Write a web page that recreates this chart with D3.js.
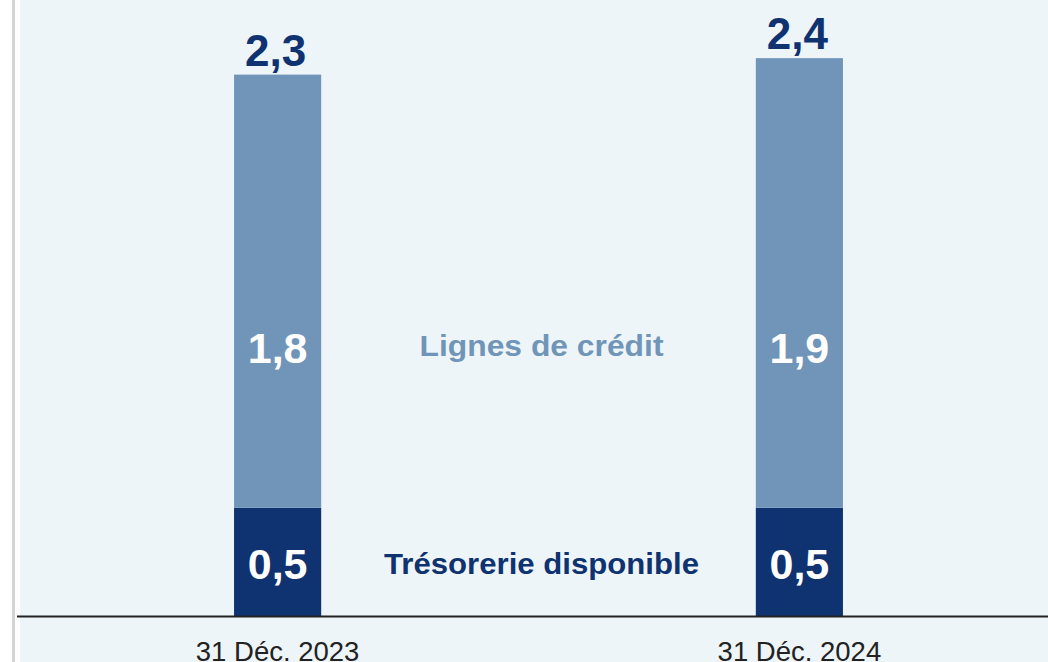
<!DOCTYPE html>
<html>
<head>
<meta charset="utf-8">
<script src="https://cdn.jsdelivr.net/npm/d3@7"></script>
<style>
  html, body { margin: 0; padding: 0; background: #fff; }
  svg { display: block; }
</style>
</head>
<body>
<div id="chart"></div>
<script>
// data
const categories = ['31 Déc. 2023', '31 Déc. 2024'];
const seriesNames = ['Trésorerie disponible', 'Lignes de crédit'];
const tresorerie = [0.46, 0.46];
const lignesCredit = [1.84, 1.91];
const colors = ['#0f3370', '#7095b8'];

const W = 1048, H = 662;
const axisY = 616;

const svg = d3.select('#chart').append('svg')
    .attr('width', W)
    .attr('height', H);

// left frame strip + panel
svg.append('rect').attr('x', 0).attr('y', 0).attr('width', W).attr('height', H).attr('fill', '#ffffff');
svg.append('rect').attr('x', 12).attr('y', 0).attr('width', 3).attr('height', H).attr('fill', '#d4d4d4');
svg.append('rect').attr('x', 20).attr('y', 0).attr('width', W - 20).attr('height', H).attr('fill', '#eef5f8');

const x = d3.scaleBand()
    .domain(categories)
    .range([17, 1060])
    .paddingInner(0.833)
    .paddingOuter(0.416);

const y = d3.scaleLinear()
    .domain([0, 2.6])
    .range([axisY, 4]);

const rows = categories.map((c, i) => ({
    cat: c,
    vals: [tresorerie[i], lignesCredit[i]]
}));

const stack = d3.stack().keys([0, 1]).value((d, k) => d.vals[k]);
const layers = stack(rows);

const fmt = v => d3.format('.1f')(v).replace('.', ',');

const g = svg.append('g');

layers.forEach((layer, li) => {
    g.selectAll('.bar' + li)
        .data(layer)
        .enter().append('rect')
        .attr('x', d => x(d.data.cat))
        .attr('width', x.bandwidth())
        .attr('y', d => y(d[1]))
        .attr('height', d => y(d[0]) - y(d[1]))
        .attr('fill', colors[li]);
});

const numFont = '"Liberation Sans", Arial, sans-serif';

// dark segment labels (centered)
g.selectAll('.lblDark')
    .data(layers[0])
    .enter().append('text')
    .attr('x', d => x(d.data.cat) + x.bandwidth() / 2)
    .attr('y', d => (y(d[0]) + y(d[1])) / 2 + 2)
    .attr('text-anchor', 'middle')
    .attr('dominant-baseline', 'central')
    .attr('font-family', numFont)
    .attr('font-weight', 'bold')
    .attr('font-size', 43)
    .attr('fill', '#ffffff')
    .text(d => fmt(d[1] - d[0]));

// light segment labels sit on a common row
const lightRow = y(1.14);
g.selectAll('.lblLight')
    .data(layers[1])
    .enter().append('text')
    .attr('x', d => x(d.data.cat) + x.bandwidth() / 2)
    .attr('y', lightRow)
    .attr('text-anchor', 'middle')
    .attr('dominant-baseline', 'central')
    .attr('font-family', numFont)
    .attr('font-weight', 'bold')
    .attr('font-size', 43)
    .attr('fill', '#ffffff')
    .text(d => fmt(d[1] - d[0]));

// totals
g.selectAll('.lblTotal')
    .data(layers[1])
    .enter().append('text')
    .attr('x', d => x(d.data.cat) + x.bandwidth() / 2 - 2)
    .attr('y', d => y(d[1]) - 9)
    .attr('text-anchor', 'middle')
    .attr('font-family', numFont)
    .attr('font-weight', 'bold')
    .attr('font-size', 44)
    .attr('fill', '#0f3370')
    .text(d => fmt(d[1]));

// series names between the bars
const midX = (x(categories[0]) + x(categories[1]) + x.bandwidth()) / 2 + 3;
const darkMidY = (y(0) + y(tresorerie[0])) / 2 + 2;
g.append('text')
    .attr('x', midX)
    .attr('y', darkMidY)
    .attr('text-anchor', 'middle')
    .attr('dominant-baseline', 'central')
    .attr('font-family', numFont)
    .attr('font-weight', 'bold')
    .attr('font-size', 30)
    .attr('textLength', 315)
    .attr('lengthAdjust', 'spacingAndGlyphs')
    .attr('fill', colors[0])
    .text(seriesNames[0]);

g.append('text')
    .attr('x', midX)
    .attr('y', lightRow - 2)
    .attr('text-anchor', 'middle')
    .attr('dominant-baseline', 'central')
    .attr('font-family', numFont)
    .attr('font-weight', 'bold')
    .attr('font-size', 30)
    .attr('textLength', 244)
    .attr('lengthAdjust', 'spacingAndGlyphs')
    .attr('fill', colors[1])
    .text(seriesNames[1]);

// x axis
const xAxis = d3.axisBottom(x).tickSize(0).tickPadding(25);
const ax = svg.append('g')
    .attr('transform', `translate(0,${axisY})`)
    .call(xAxis);
ax.select('.domain')
    .attr('d', `M17,0.5H${W}`)
    .attr('stroke', '#222')
    .attr('stroke-width', 2);
ax.selectAll('text')
    .attr('font-family', numFont)
    .attr('font-size', 27.5)
    .attr('fill', '#222');
</script>
</body>
</html>
